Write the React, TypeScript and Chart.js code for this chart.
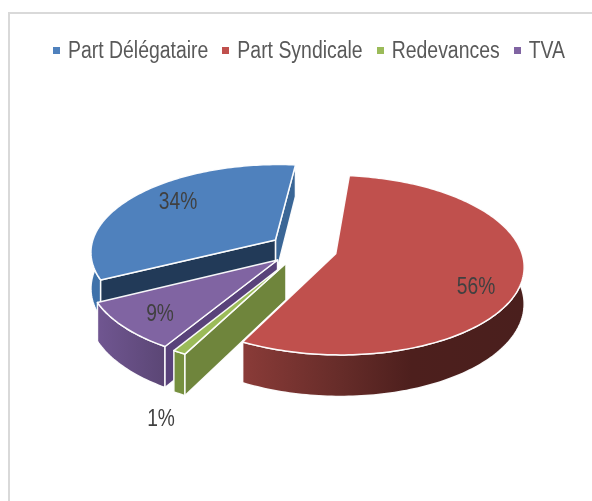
import React, { useEffect, useRef } from "react";
import { Chart, registerables } from "chart.js";

Chart.register(...registerables);

const categories = ["Part Délégataire", "Part Syndicale", "Redevances", "TVA"];
const shares = [34, 56, 1, 9];
const topColors = ["#4f81bd", "#c0504d", "#9bbb59", "#8064a2"];

const FONT = "'Liberation Sans', Arial, sans-serif";
const CX = 303, CY = 249, RADIUS = 185, EXPLODE = 34, SQUASH = 0.471, PERSP = 0.000685, DEPTH = 36;
const START_WALL = ["#223a58", "#5a2724", "#6f853c", "#59427a"];
const END_WALL = ["#3a6696", "#5a2724", "#6f853c", "#59427a"];
const RIM_STOPS: [number, string][][] = [
  [[0, "#3f72aa"], [1, "#3f72aa"]],
  [[0, "#8a3b38"], [0.35, "#662c29"], [0.6, "#4d1f1d"], [1, "#4a1f1d"]],
  [[0, "#76903f"], [1, "#76903f"]],
  [[0, "#705691"], [1, "#5b4675"]],
];
const LABEL_SPOTS = [[178, 209], [476, 294], [161, 426], [160, 321]];
const DRAW_ORDER = [0, 3, 2, 1];

function project(X: number, Y: number, z = 0): [number, number] {
  const w = 1 - PERSP * Y;
  return [CX + X / w, CY + (SQUASH * Y + z) / w];
}

function paint(ctx: CanvasRenderingContext2D, pts: [number, number][], fill: string | CanvasGradient) {
  ctx.beginPath();
  pts.forEach((p, i) => (i ? ctx.lineTo(p[0], p[1]) : ctx.moveTo(p[0], p[1])));
  ctx.closePath();
  ctx.fillStyle = fill;
  ctx.fill();
  ctx.strokeStyle = "rgba(255,255,255,0.95)";
  ctx.lineWidth = 1.5;
  ctx.lineJoin = "round";
  ctx.stroke();
}

function narrowText(ctx: CanvasRenderingContext2D, text: string, x: number, y: number, sx: number) {
  ctx.save();
  ctx.translate(x, y);
  ctx.scale(sx, 1);
  ctx.fillText(text, 0, 0);
  ctx.restore();
}

const pie3d = {
  id: "pie3d",
  beforeDatasetsDraw(chart: any) {
    const ctx: CanvasRenderingContext2D = chart.ctx;
    const arcs = chart.getDatasetMeta(0).data;
    ctx.save();
    DRAW_ORDER.forEach((i) => {
      const a0 = arcs[i].startAngle + Math.PI / 2;
      const a1 = arcs[i].endAngle + Math.PI / 2;
      const mid = (a0 + a1) / 2;
      const ox = EXPLODE * Math.sin(mid);
      const oy = -EXPLODE * Math.cos(mid);
      const world: [number, number][] = [];
      const n = Math.max(2, Math.ceil((a1 - a0) / 0.02));
      for (let k = 0; k <= n; k++) {
        const t = a0 + ((a1 - a0) * k) / n;
        world.push([ox + RADIUS * Math.sin(t), oy - RADIUS * Math.cos(t)]);
      }
      const top = world.map((p) => project(p[0], p[1]));
      const bottom = world.map((p) => project(p[0], p[1], DEPTH));
      const apexT = project(ox, oy);
      const apexB = project(ox, oy, DEPTH);

      const xs = top.map((p) => p[0]);
      const grad = ctx.createLinearGradient(Math.min(...xs), 0, Math.max(...xs), 0);
      RIM_STOPS[i].forEach(([o, c]) => grad.addColorStop(o, c));
      paint(ctx, [...top, ...bottom.slice().reverse()], grad);

      if (Math.sin(a1) > 0) paint(ctx, [apexT, top[n], bottom[n], apexB], END_WALL[i]);
      if (Math.sin(a0) < 0) paint(ctx, [apexT, top[0], bottom[0], apexB], START_WALL[i]);
      paint(ctx, [apexT, ...top], topColors[i]);
    });
    ctx.restore();
    return false;
  },
  afterDraw(chart: any) {
    const ctx: CanvasRenderingContext2D = chart.ctx;
    ctx.save();
    ctx.textBaseline = "alphabetic";

    ctx.font = `24px ${FONT}`;
    ctx.fillStyle = "#404040";
    ctx.textAlign = "center";
    shares.forEach((v, i) => {
      narrowText(ctx, `${v}%`, LABEL_SPOTS[i][0], LABEL_SPOTS[i][1], 0.8);
    });

    // Legend: condensed text, so it is laid out here rather than by the stock legend box.
    const sx = 0.845;
    ctx.font = `23px ${FONT}`;
    ctx.textAlign = "left";
    const labels: string[] = chart.data.labels;
    const widths = labels.map((t) => ctx.measureText(t).width * sx);
    const total = widths.reduce((a, b) => a + b + 15, 0) + 14 * (labels.length - 1);
    let x = 309 - total / 2;
    labels.forEach((t, i) => {
      ctx.fillStyle = topColors[i];
      ctx.fillRect(Math.round(x), 47, 7, 7);
      ctx.fillStyle = "#595959";
      narrowText(ctx, t, x + 15, 58, sx);
      x += 15 + widths[i] + 14;
    });
    ctx.restore();
  },
};

export default function App() {
  const ref = useRef<HTMLCanvasElement>(null);
  useEffect(() => {
    const chart = new Chart(ref.current!, {
      type: "pie",
      data: {
        labels: categories,
        datasets: [{ data: shares, backgroundColor: topColors, borderWidth: 0 }],
      },
      options: {
        animation: false,
        responsive: false,
        rotation: -116.4,
        plugins: {
          tooltip: { enabled: false },
          legend: { display: false },
        },
      },
      plugins: [pie3d],
    } as any);
    return () => chart.destroy();
  }, []);
  return (
    <div style={{ position: "fixed", left: 0, top: 0, width: 592, height: 501, overflow: "hidden", background: "#fff" }}>
      <div style={{ position: "absolute", left: 8, top: 12, width: 700, height: 700, border: "2px solid #d9d9d9" }} />
      <canvas ref={ref} width={592} height={501} style={{ position: "absolute", left: 0, top: 0, display: "block" }} />
    </div>
  );
}
